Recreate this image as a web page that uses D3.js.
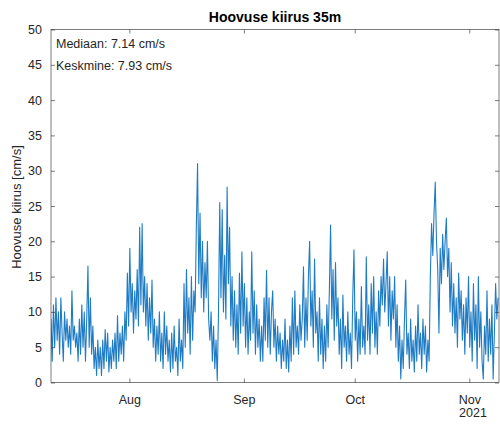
<!DOCTYPE html>
<html><head><meta charset="utf-8">
<script src="https://cdn.jsdelivr.net/npm/d3@7"></script>
<style>body{margin:0;background:#fff}svg{display:block}text{font-family:"Liberation Sans",Arial,sans-serif}</style>
</head><body><div id="chart"></div>
<script>
// Data: current speed [cm/s], 3 samples per day (8 h step) starting 2021-07-10 19:00
const startTime = "2021-07-10T19:00:00";
const stepHours = 8;
const speedValues = [
 9,3,11, 5,12,6, 10,4,12, 7,3,10, 6,9,5, 8,4,13, 6,8,5, 7,3,9, 4,11,5, 10,3,9,
 16.5,5,12, 4,8,2, 5,1,6, 2,5,1, 6,2,7.5, 3,7,1.5, 5,2,6, 3,7,2, 9.5,3,7, 4,8,3,
 10,6,15.5, 8,19,10, 14,7,13, 9,16,8, 22,11,22.5, 10,15,8, 14,6,12, 7,14.5,5, 9,3,8, 4,10,3,
 7,2,10, 4,8,3, 6,1.5,7, 2,8,3, 5,1,9, 3,6,2, 14,5,16, 7,12,4, 15,6,13, 10,22,31,
 14,24,12, 20,10,17, 12,20,9, 6,10,3, 8,2,6, 0.3,10,25.5, 12,24.5,10, 18,9,27.7, 14,22,8, 15,6,13,
 5,11,4, 15.5,7,18.5, 8,14,5, 12,4,10, 6,18.5,7, 13,4,11, 5,9,3, 8,3,12, 6,15.9,5, 12,4,10,
 13,5,9, 3,8,4, 7,2,6, 3,9,2, 6,1.5,8, 3,12,4, 13,5,8, 4,11,6, 9,16.4,5, 12,6,15,
 20,8,13, 5,17.5,7, 10,3,12, 4,9,2, 8,3,11, 5,13,22.3, 9,16,6, 17,8,12, 4,9,2, 12.4,5,8,
 3,10,4, 7,2,12, 18.8,6,10, 3,9,4, 13.6,5,8, 4,17.8,6, 11,4,14, 7,15,5, 10,4,13, 8,15,11,
 17.5,10,14, 18.5,8,15, 6,13,9, 15,5,11, 3,8,0.5, 6,2,9, 14.5,4,7, 2,9,3, 6,1.5,8, 3,11,4,
 7,2,9, 4,8,1.5, 6,3,15, 22.5,18,24, 28.4,20,16, 7,19,14, 21,16,20, 23.3,15,19, 10,17,8, 14,7,12,
 5,15.5,9, 13,6,11, 4,12,7, 15,5,10, 3,14,6, 11,2,15, 5,10,3, 0.5,8,4, 13,3,9, 4,11,0.5,
 7,14,9, 12
];
const yTicks = [0,5,10,15,20,25,30,35,40,45,50];
const xTickDates = ["2021-08-01","2021-09-01","2021-10-01","2021-11-01"];
const xTickLabels = ["Aug","Sep","Oct","Nov"];
const xDomain = ["2021-07-10T19:00:00","2021-11-09T01:00:00"];
const titleText = "Hoovuse kiirus 35m";
const yLabel = "Hoovuse kiirus [cm/s]";
const notes = ["Mediaan: 7.14 cm/s","Keskmine: 7.93 cm/s"];
const yearLabel = "2021";

const W=500,H=425;
const L=51,R=499,T=29.5,B=382.5;
const svg=d3.select("#chart").append("svg").attr("width",W).attr("height",H);
const t0=new Date(startTime);
const data=speedValues.map((v,i)=>({t:new Date(t0.getTime()+i*stepHours*3600e3),v}));
const x=d3.scaleTime().domain(xDomain.map(d=>new Date(d))).range([L,R]);
const y=d3.scaleLinear().domain([0,50]).range([B,T]);
const axCol="#262626";

svg.append("defs").append("clipPath").attr("id","clip").append("rect").attr("x",L).attr("y",T).attr("width",R-L).attr("height",B-T);

svg.append("path").datum(data).attr("clip-path","url(#clip)")
 .attr("d",d3.line().x(d=>x(d.t)).y(d=>y(d.v)))
 .attr("fill","none").attr("stroke","#1f7cc4").attr("stroke-width",1.1).attr("stroke-linejoin","round");

// frame
svg.append("rect").attr("x",L).attr("y",T).attr("width",R-L).attr("height",B-T).attr("fill","none").attr("stroke",axCol).attr("stroke-width",0.6);

const xt=xTickDates.map(d=>new Date(d+"T00:00:00"));
const gl=svg.append("g").attr("transform",`translate(${L},0)`).call(d3.axisLeft(y).tickValues(yTicks).tickSize(-4).tickPadding(9));
const gr=svg.append("g").attr("transform",`translate(${R},0)`).call(d3.axisRight(y).tickValues(yTicks).tickSize(-4).tickFormat(""));
const gb=svg.append("g").attr("transform",`translate(0,${B})`).call(d3.axisBottom(x).tickValues(xt).tickSize(-4).tickPadding(13).tickFormat((d,i)=>xTickLabels[i]));
const gt=svg.append("g").attr("transform",`translate(0,${T})`).call(d3.axisTop(x).tickValues(xt).tickSize(-4).tickFormat(""));
[gl,gr,gb,gt].forEach(g=>{g.select(".domain").remove();g.selectAll("line").attr("stroke",axCol).attr("stroke-width",0.6);
 g.selectAll("text").attr("fill",axCol).attr("font-size",12.5).attr("font-family","Liberation Sans, Arial, sans-serif");});

svg.append("text").attr("x",473).attr("y",417).attr("text-anchor","middle").attr("font-size",12.5).attr("fill",axCol).text(yearLabel);

svg.append("text").attr("x",(L+R)/2).attr("y",22).attr("text-anchor","middle").attr("font-size",14).attr("font-weight","bold").attr("fill","#000").text(titleText);

svg.append("text").attr("transform","translate(21,207) rotate(-90)").attr("text-anchor","middle").attr("font-size",13).attr("fill",axCol).text(yLabel);

notes.forEach((n,i)=>svg.append("text").attr("x",56).attr("y",48+i*22).attr("font-size",12.5).attr("fill",axCol).text(n));
</script></body></html>
